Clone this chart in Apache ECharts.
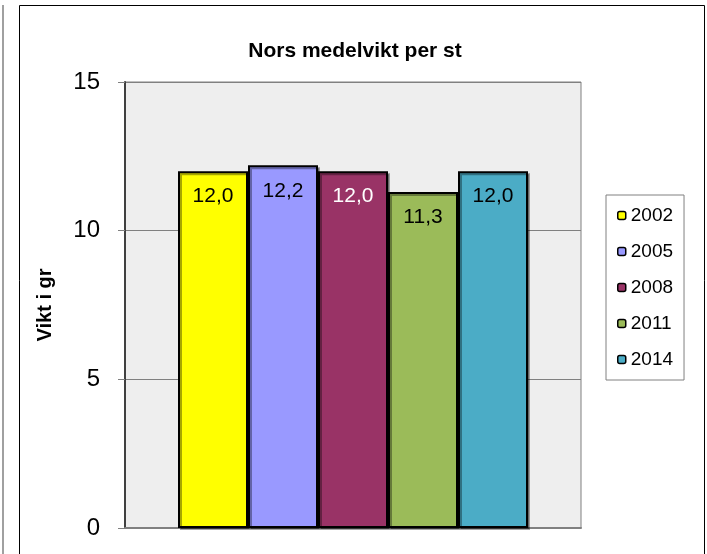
<!DOCTYPE html>
<html>
<head>
<meta charset="utf-8">
<script src="https://cdn.jsdelivr.net/npm/echarts@6/dist/echarts.min.js"></script>
<style>html,body{margin:0;padding:0;background:#fff}#c{width:707px;height:554px}</style>
</head>
<body>
<div id="c"></div>
<script>
var categories = [''];
var seriesNames = ['2002', '2005', '2008', '2011', '2014'];
var seriesValues = [[12.0], [12.2], [12.0], [11.3], [12.0]];
var seriesColors = ['#FFFF00', '#9999FF', '#993366', '#9BBB59', '#4BACC6'];
var labelColors = ['#000', '#000', '#fff', '#000', '#000'];
var yTicks = [0, 5, 10, 15];

var FONT = '"Liberation Sans", Arial, sans-serif';
var chart = echarts.init(document.getElementById('c'), null, {renderer: 'canvas'});

var series = seriesNames.map(function (n, i) {
  return {
    name: n,
    type: 'bar',
    data: seriesValues[i],
    barWidth: 70,
    barGap: '0%',
    itemStyle: {color: seriesColors[i], borderColor: '#000', borderWidth: 2,
      shadowColor: 'rgba(0,0,0,0.35)', shadowOffsetX: 2, shadowOffsetY: 2, shadowBlur: 0},
    label: {
      show: true, position: 'insideTop', distance: 15,
      color: labelColors[i], fontFamily: FONT, fontSize: 21,
      formatter: function (p) { return p.value.toFixed(1).replace('.', ','); }
    }
  };
});

chart.setOption({
  animation: false,
  backgroundColor: '#fff',
  title: {
    text: 'Nors medelvikt per st', left: 350, top: 36, textAlign: 'center',
    textStyle: {fontFamily: FONT, fontSize: 21, fontWeight: 'bold', color: '#000'}
  },
  legend: {
    orient: 'vertical', left: 606, top: 195,
    padding: [11, 11, 11, 11], itemGap: 17,
    itemWidth: 8, itemHeight: 8,
    borderColor: '#808080', borderWidth: 1,
    data: seriesNames,
    itemStyle: {borderColor: '#000', borderWidth: 1.5},
    textStyle: {fontFamily: FONT, fontSize: 19, color: '#000'}
  },
  grid: {
    left: 125, top: 82, width: 456, height: 446,
    show: true, backgroundColor: '#EEEEEE', borderColor: '#808080', borderWidth: 1
  },
  xAxis: {
    type: 'category', data: categories,
    axisLine: {show: true, lineStyle: {color: '#808080', width: 2}},
    axisTick: {show: false}, axisLabel: {show: false}
  },
  yAxis: {
    type: 'value', min: 0, max: 15, interval: 5,
    name: 'Vikt i gr', nameLocation: 'middle', nameGap: 70,
    nameTextStyle: {fontFamily: FONT, fontSize: 20, fontWeight: 'bold', color: '#000'},
    axisLine: {show: true, lineStyle: {color: '#404040', width: 2}},
    axisTick: {show: true, length: 7, lineStyle: {color: '#808080'}},
    axisLabel: {margin: 25, fontFamily: FONT, fontSize: 24, color: '#000',
      formatter: function (v) { return yTicks.indexOf(v) >= 0 ? String(v) : ''; }},
    splitLine: {show: true, lineStyle: {color: '#808080', width: 1}}
  },
  graphic: [
    {type: 'polyline', shape: {points: [[19.5, 560], [19.5, 5.5], [704.5, 5.5], [704.5, 560]]},
      style: {stroke: '#000', lineWidth: 1, fill: null}, silent: true},
    {type: 'line', shape: {x1: 3, y1: 5, x2: 3, y2: 560},
      style: {stroke: '#808080', lineWidth: 1.5}, silent: true}
  ],
  series: series
});
</script>
</body>
</html>
